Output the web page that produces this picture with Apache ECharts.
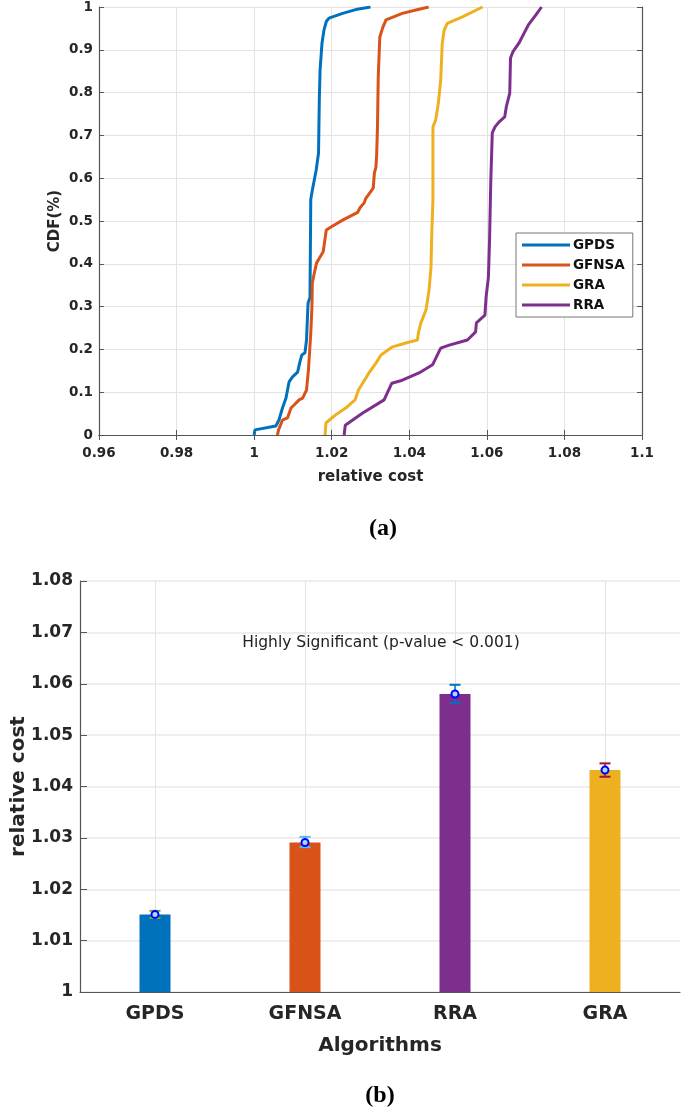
<!DOCTYPE html>
<html>
<head>
<meta charset="utf-8">
<script src="https://cdn.jsdelivr.net/npm/echarts@6/dist/echarts.min.js"></script>
<style>
  html, body { margin: 0; padding: 0; background: #fff; }
  #chart-panel { width: 685px; height: 1111px; }
</style>
</head>
<body>
<div id="chart-panel"></div>
<script>
// (a) CDF curves, [relative cost, cdf] pairs
var gpdsCdf = [[1.000,0],[1.0002,0.012],[1.0056,0.021],[1.0064,0.035],[1.0073,0.063],[1.0082,0.086],[1.009,0.124],[1.0099,0.136],[1.0112,0.147],[1.0118,0.171],[1.0123,0.187],[1.0131,0.192],[1.0135,0.222],[1.0139,0.308],[1.0144,0.322],[1.0146,0.55],[1.015,0.572],[1.016,0.619],[1.0166,0.659],[1.0168,0.783],[1.017,0.853],[1.0175,0.916],[1.018,0.946],[1.0186,0.966],[1.0193,0.974],[1.0228,0.985],[1.0262,0.994],[1.030,1.0]];
var gfnsaCdf = [[1.006,0],[1.0063,0.012],[1.0073,0.035],[1.0086,0.040],[1.0095,0.063],[1.0103,0.07],[1.0116,0.082],[1.0125,0.086],[1.0135,0.105],[1.014,0.152],[1.0146,0.238],[1.0149,0.30],[1.015,0.355],[1.0155,0.378],[1.0161,0.402],[1.0168,0.413],[1.0178,0.428],[1.0186,0.479],[1.0198,0.486],[1.0228,0.502],[1.0267,0.52],[1.0273,0.531],[1.0284,0.543],[1.0288,0.553],[1.0307,0.577],[1.031,0.612],[1.0314,0.626],[1.0316,0.658],[1.0318,0.72],[1.032,0.837],[1.0324,0.93],[1.0332,0.953],[1.034,0.97],[1.0382,0.985],[1.0417,0.993],[1.045,1.0]];
var graCdf = [[1.0183,0],[1.0185,0.028],[1.021,0.047],[1.0236,0.063],[1.026,0.082],[1.0269,0.105],[1.0296,0.145],[1.0314,0.168],[1.0327,0.187],[1.0357,0.206],[1.0391,0.215],[1.0421,0.222],[1.0424,0.241],[1.043,0.262],[1.0443,0.292],[1.0451,0.339],[1.0456,0.393],[1.0458,0.472],[1.0461,0.55],[1.0461,0.72],[1.0468,0.736],[1.0475,0.776],[1.0481,0.829],[1.0485,0.916],[1.049,0.946],[1.0498,0.962],[1.0537,0.977],[1.0589,1.0]];
var rraCdf = [[1.0232,0],[1.0235,0.023],[1.0279,0.051],[1.0335,0.082],[1.0355,0.121],[1.0382,0.128],[1.0425,0.145],[1.046,0.164],[1.0481,0.203],[1.0503,0.21],[1.055,0.222],[1.0571,0.241],[1.0573,0.262],[1.0595,0.28],[1.0598,0.322],[1.0604,0.369],[1.0607,0.456],[1.061,0.589],[1.0614,0.706],[1.0621,0.72],[1.0631,0.731],[1.0646,0.743],[1.065,0.766],[1.0659,0.799],[1.0661,0.881],[1.0667,0.895],[1.0683,0.916],[1.0696,0.939],[1.0707,0.958],[1.0726,0.981],[1.0741,1.0]];

// (b) mean relative cost with error bars
var algorithms = ['GPDS', 'GFNSA', 'RRA', 'GRA'];
var meanCost = [1.0151, 1.0291, 1.0580, 1.0432];
var errLow = [1.0144, 1.0282, 1.0563, 1.0419];
var errHigh = [1.0158, 1.0302, 1.0598, 1.0445];

var barColors = ['#0072BD', '#D95319', '#7E2F8E', '#EDB120'];
var capColors = ['#77AC30', '#4DBEEE', '#0072BD', '#A2142F'];

var myChart = echarts.init(document.getElementById('chart-panel'));

var FONT = 'DejaVu Sans, Verdana, sans-serif';
var lbl = { color: '#262626', fontWeight: 'bold', fontFamily: FONT };
var gridLine = { show: true, lineStyle: { color: '#e3e3e3', width: 1 } };
var axLine = { show: true, lineStyle: { color: '#555', width: 1.2 } };
var inTick = { show: true, inside: true, length: 5, lineStyle: { color: '#555' } };

function lineSeries(name, data, color) {
    return {
        name: name, type: 'line', xAxisIndex: 0, yAxisIndex: 0,
        data: data, showSymbol: false, symbol: 'none',
        lineStyle: { color: color, width: 3 },
        itemStyle: { color: color }
    };
}

var option = {
    backgroundColor: '#fff',
    animation: false,
    title: [
        { text: '(a)', left: 378, top: 512, textAlign: 'center',
          textStyle: { fontFamily: 'Liberation Serif, Times New Roman, serif', fontSize: 24, fontWeight: 'bold', color: '#000' } },
        { text: '(b)', left: 375, top: 1079, textAlign: 'center',
          textStyle: { fontFamily: 'Liberation Serif, Times New Roman, serif', fontSize: 24, fontWeight: 'bold', color: '#000' } }
    ],
    graphic: [
        { type: 'text', x: 381, y: 643, z: 10,
          style: { text: 'Highly Significant (p-value < 0.001)', fill: '#222', font: '15.5px DejaVu Sans, Verdana, sans-serif',
                   align: 'center', verticalAlign: 'middle' } }
    ],
    legend: {
        data: ['GPDS', 'GFNSA', 'GRA', 'RRA'],
        orient: 'vertical',
        left: 516, top: 233,
        padding: [4, 8, 4, 6],
        backgroundColor: '#fff',
        borderColor: '#777', borderWidth: 1,
        icon: 'rect', itemWidth: 48, itemHeight: 3, itemGap: 4,
        textStyle: { color: '#111', fontWeight: 'bold', fontFamily: FONT, fontSize: 13.5, lineHeight: 16, padding: [0, 0, 0, -2] }
    },
    grid: [
        { left: 99, top: 7, width: 543, height: 428, containLabel: false, outerBoundsMode: 'none' },
        { left: 80, top: 581, width: 600, height: 411, containLabel: false, outerBoundsMode: 'none' }
    ],
    xAxis: [
        { type: 'value', gridIndex: 0, min: 0.96, max: 1.1, interval: 0.02,
          name: 'relative cost', nameLocation: 'middle', nameGap: 35, nameMoveOverlap: false,
          nameTextStyle: Object.assign({ fontSize: 15 }, lbl),
          axisLine: axLine, axisTick: inTick,
          axisLabel: Object.assign({ fontSize: 13.5, margin: 11 }, lbl),
          splitLine: gridLine },
        { type: 'value', gridIndex: 0, position: 'top', min: 0.96, max: 1.1, interval: 0.02,
          axisLine: axLine, axisTick: inTick,
          axisLabel: { show: false }, splitLine: { show: false } },
        { type: 'category', gridIndex: 1, data: algorithms,
          name: 'Algorithms', nameLocation: 'middle', nameGap: 44, nameMoveOverlap: false,
          nameTextStyle: Object.assign({ fontSize: 20 }, lbl),
          axisLine: { show: true, lineStyle: { color: '#555', width: 1.2 } },
          axisTick: { show: false, alignWithLabel: true },
          axisLabel: Object.assign({ fontSize: 19, margin: 13 }, lbl),
          splitLine: { show: true, alignWithLabel: true, lineStyle: { color: '#e3e3e3', width: 1 } } }
    ],
    yAxis: [
        { type: 'value', gridIndex: 0, min: 0, max: 1, interval: 0.1,
          name: 'CDF(%)', nameLocation: 'middle', nameGap: 36, nameMoveOverlap: false,
          nameTextStyle: Object.assign({ fontSize: 15 }, lbl),
          axisLine: axLine, axisTick: inTick,
          axisLabel: Object.assign({ fontSize: 13.5, margin: 6 }, lbl),
          splitLine: gridLine },
        { type: 'value', gridIndex: 0, position: 'right', min: 0, max: 1, interval: 0.1,
          axisLine: axLine, axisTick: inTick,
          axisLabel: { show: false }, splitLine: { show: false } },
        { type: 'value', gridIndex: 1, min: 1, max: 1.08, interval: 0.01,
          name: 'relative cost', nameLocation: 'middle', nameGap: 51, nameMoveOverlap: false,
          nameTextStyle: Object.assign({ fontSize: 20 }, lbl),
          axisLine: axLine, axisTick: { show: true, inside: true, length: 7, lineStyle: { color: '#555' } },
          axisLabel: Object.assign({ fontSize: 17, margin: 7 }, lbl),
          splitLine: { show: true, lineStyle: { color: '#e8e8e8', width: 1.5 } } }
    ],
    series: [
        lineSeries('GPDS', gpdsCdf, '#0072BD'),
        lineSeries('GFNSA', gfnsaCdf, '#D95319'),
        lineSeries('GRA', graCdf, '#EDB120'),
        lineSeries('RRA', rraCdf, '#7E2F8E'),
        {
            name: 'mean', type: 'bar', xAxisIndex: 2, yAxisIndex: 2,
            barWidth: 31, z: 2,
            data: meanCost.map(function (v, i) {
                return { value: v, itemStyle: { color: barColors[i] } };
            })
        },
        {
            name: 'error', type: 'custom', xAxisIndex: 2, yAxisIndex: 2, z: 5,
            data: algorithms.map(function (c, i) { return [i, errLow[i], errHigh[i], meanCost[i]]; }),
            renderItem: function (params, api) {
                var i = api.value(0);
                var lo = api.coord([i, api.value(1)]);
                var hi = api.coord([i, api.value(2)]);
                var mid = api.coord([i, api.value(3)]);
                var c = capColors[params.dataIndex];
                var hw = 5.5;
                return {
                    type: 'group',
                    children: [
                        { type: 'line', shape: { x1: hi[0], y1: hi[1], x2: lo[0], y2: lo[1] }, style: { stroke: c, lineWidth: 1.5 } },
                        { type: 'line', shape: { x1: hi[0] - hw, y1: hi[1], x2: hi[0] + hw, y2: hi[1] }, style: { stroke: c, lineWidth: 2 } },
                        { type: 'line', shape: { x1: lo[0] - hw, y1: lo[1], x2: lo[0] + hw, y2: lo[1] }, style: { stroke: c, lineWidth: 2 } },
                        { type: 'circle', shape: { cx: mid[0], cy: mid[1], r: 3.5 }, style: { fill: '#a8dcff', stroke: '#0000ff', lineWidth: 2 } }
                    ]
                };
            }
        }
    ]
};

myChart.setOption(option);
</script>
</body>
</html>
